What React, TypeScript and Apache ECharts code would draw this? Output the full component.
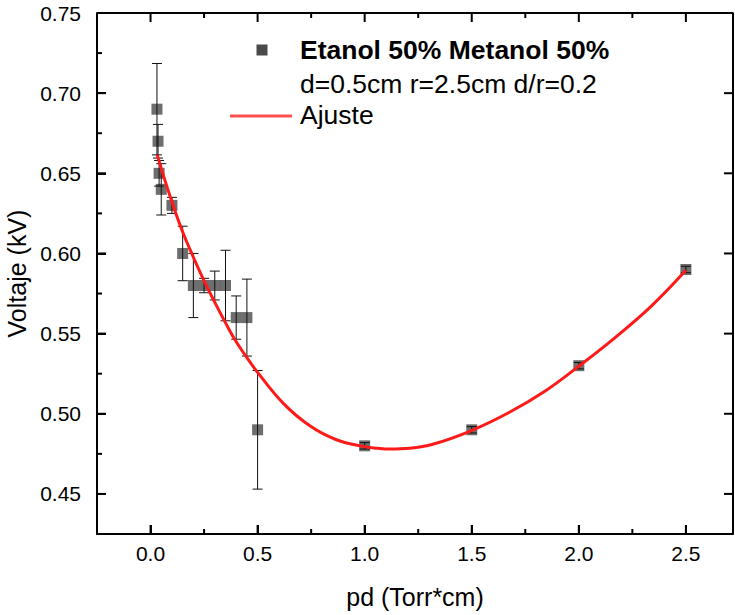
import React, { useEffect, useRef } from "react";
import * as echarts from "echarts";

// Measured data
const pdValues = [0.03, 0.035, 0.04, 0.05, 0.1, 0.15, 0.2, 0.25, 0.3, 0.35, 0.4, 0.45, 0.5, 1.0, 1.5, 2.0, 2.5];
const voltValues = [0.69, 0.67, 0.65, 0.64, 0.63, 0.6, 0.58, 0.58, 0.58, 0.58, 0.56, 0.56, 0.49, 0.48, 0.49, 0.53, 0.59];
const voltErrors = [0.0285, 0.0105, 0.008, 0.016, 0.005, 0.017, 0.02, 0.0045, 0.009, 0.022, 0.0135, 0.024, 0.037, 0.002, 0.002, 0.002, 0.002];

// Fit curve ("Ajuste")
const fitX = [0.031, 0.07, 0.108, 0.147, 0.194, 0.248, 0.302, 0.349, 0.395, 0.45, 0.499, 0.62, 0.744, 0.868, 0.997, 1.06, 1.116, 1.209, 1.318, 1.496, 1.674, 1.845, 1.997, 2.171, 2.341, 2.5];
const fitY = [0.6615, 0.6445, 0.629, 0.6145, 0.5995, 0.5835, 0.569, 0.557, 0.546, 0.535, 0.526, 0.5065, 0.4925, 0.4838, 0.4795, 0.4785, 0.478, 0.4785, 0.481, 0.4894, 0.5008, 0.5144, 0.5294, 0.5477, 0.5675, 0.5895];

// Tick positions
const xMajorTicks = [0, 0.5, 1.0, 1.5, 2.0, 2.5];
const xMinorTicks = [0.25, 0.75, 1.25, 1.75, 2.25];
const yMajorTicks = [0.45, 0.5, 0.55, 0.6, 0.65, 0.7];
const yMinorTicks = [0.475, 0.525, 0.575, 0.625, 0.675, 0.725];

const seriesName = "Etanol 50% Metanol 50%";
const seriesSub = "d=0.5cm r=2.5cm d/r=0.2";
const fitName = "Ajuste";
const xTitle = "pd (Torr*cm)";
const yTitle = "Voltaje (kV)";

const X_MIN = -0.25;
const X_MAX = 2.72;
const Y_MIN = 0.425;
const Y_MAX = 0.75;

const FONT = "Arial, 'Liberation Sans', sans-serif";

export default function App() {
  const ref = useRef<HTMLDivElement>(null);

  useEffect(() => {
    document.body.style.margin = "0";
    if (!ref.current) return;
    const chart = echarts.init(ref.current, null, { renderer: "svg" });

    const black = "#000";
    const MAJOR = 9;
    const MINOR = 5;

    const pointData = pdValues.map((x, i) => [x, voltValues[i]]);
    const errData = pdValues.map((x, i) => [x, voltValues[i], voltErrors[i]]);
    const fitData = fitX.map((x, i) => [x, fitY[i]]);

    // Tick items drawn like error bars: [x, y, half-length-in-data-units, orientation]
    // orientation 0 = vertical tick on bottom/top, 1 = horizontal tick on left/right
    const tickItems: number[][] = [];
    xMajorTicks.forEach((v) => tickItems.push([v, Y_MIN, MAJOR, 0], [v, Y_MAX, -MAJOR, 0]));
    xMinorTicks.forEach((v) => tickItems.push([v, Y_MIN, MINOR, 0], [v, Y_MAX, -MINOR, 0]));
    yMajorTicks.forEach((v) => tickItems.push([X_MIN, v, MAJOR, 1], [X_MAX, v, -MAJOR, 1]));
    yMinorTicks.forEach((v) => tickItems.push([X_MIN, v, MINOR, 1]));

    const option: any = {
      animation: false,
      backgroundColor: "#fff",
      grid: {
        left: 97,
        right: 2,
        top: 13,
        bottom: 81,
        containLabel: false,
        outerBoundsMode: "none",
      },
      xAxis: {
        type: "value",
        min: X_MIN,
        max: X_MAX,
        splitNumber: 5,
        axisLine: { show: true, onZero: false, lineStyle: { color: black, width: 2 } },
        axisTick: { show: true, inside: true, length: 9, lineStyle: { color: black, width: 2 } },
        axisLabel: {
          margin: 9,
          fontSize: 21,
          fontFamily: FONT,
          color: black,
          showMinLabel: false,
          showMaxLabel: false,
          formatter: (v: number) => v.toFixed(1),
        },
        splitLine: { show: false },
        name: xTitle,
        nameLocation: "middle",
        nameGap: 50,
        nameTextStyle: { fontSize: 25, fontFamily: FONT, color: black },
      },
      yAxis: {
        type: "value",
        min: Y_MIN,
        max: Y_MAX,
        splitNumber: 5,
        axisLine: { show: true, onZero: false, lineStyle: { color: black, width: 2 } },
        axisTick: { show: true, inside: true, length: 9, lineStyle: { color: black, width: 2 } },
        axisLabel: {
          margin: 16,
          fontSize: 21,
          fontFamily: FONT,
          color: black,
          showMinLabel: false,
          formatter: (v: number) => v.toFixed(2),
        },
        splitLine: { show: false },
        name: yTitle,
        nameLocation: "middle",
        nameGap: 62,
        nameTextStyle: { fontSize: 25, fontFamily: FONT, color: black },
      },
      series: [
        {
          name: seriesName,
          type: "scatter",
          symbol: "rect",
          symbolSize: 11,
          itemStyle: { color: "#4a4a4a" },
          data: pointData,
          z: 2,
        },
        {
          name: "err",
          type: "custom",
          encode: { x: 0, y: 1 },
          data: errData,
          z: 3,
          silent: true,
          renderItem: (params: any, api: any) => {
            const x = api.value(0);
            const y = api.value(1);
            const e = api.value(2);
            const top = api.coord([x, y + e]);
            const bot = api.coord([x, y - e]);
            const hw = 5;
            const style = { stroke: "#111", lineWidth: 1, fill: null };
            return {
              type: "group",
              children: [
                { type: "line", shape: { x1: top[0], y1: top[1], x2: bot[0], y2: bot[1] }, style },
                { type: "line", shape: { x1: top[0] - hw, y1: top[1], x2: top[0] + hw, y2: top[1] }, style },
                { type: "line", shape: { x1: bot[0] - hw, y1: bot[1], x2: bot[0] + hw, y2: bot[1] }, style },
              ],
            };
          },
        },
        {
          name: "ticks",
          type: "custom",
          encode: { x: 0, y: 1 },
          data: tickItems,
          z: 5,
          silent: true,
          clip: false,
          renderItem: (params: any, api: any) => {
            const p = api.coord([api.value(0), api.value(1)]);
            const len = api.value(2);
            const orient = api.value(3);
            const style = { stroke: "#000", lineWidth: 2, fill: null };
            if (orient === 0) {
              return { type: "line", shape: { x1: p[0], y1: p[1], x2: p[0], y2: p[1] - len }, style };
            }
            return { type: "line", shape: { x1: p[0], y1: p[1], x2: p[0] + len, y2: p[1] }, style };
          },
        },
        {
          name: "frame",
          type: "line",
          data: [
            [X_MIN, Y_MAX],
            [X_MAX, Y_MAX],
            [X_MAX, Y_MIN],
          ],
          showSymbol: false,
          symbol: "none",
          silent: true,
          clip: false,
          lineStyle: { color: "#000", width: 2 },
          z: 5,
        },
        {
          name: fitName,
          type: "line",
          data: fitData,
          smooth: 0.4,
          showSymbol: false,
          symbol: "none",
          lineStyle: { color: "#ff1a1a", width: 3 },
          z: 4,
        },
      ],
      graphic: [
        {
          type: "rect",
          shape: { x: 256.5, y: 44.5, width: 11, height: 11 },
          style: { fill: "#4a4a4a" },
        },
        {
          type: "text",
          x: 300,
          y: 50,
          style: {
            text: seriesName,
            fontSize: 26.5,
            fontWeight: "bold",
            fontFamily: FONT,
            fill: black,
            verticalAlign: "middle",
            align: "left",
          },
        },
        {
          type: "text",
          x: 300,
          y: 84,
          style: {
            text: seriesSub,
            fontSize: 26.5,
            fontFamily: FONT,
            fill: black,
            verticalAlign: "middle",
            align: "left",
          },
        },
        {
          type: "line",
          shape: { x1: 230, y1: 116, x2: 292, y2: 116 },
          style: { stroke: "#ff5050", lineWidth: 3 },
        },
        {
          type: "text",
          x: 300,
          y: 115,
          style: {
            text: fitName,
            fontSize: 26.5,
            fontFamily: FONT,
            fill: black,
            verticalAlign: "middle",
            align: "left",
          },
        },
      ],
    };

    chart.setOption(option);
    return () => chart.dispose();
  }, []);

  return <div ref={ref} style={{ width: 735, height: 615 }} />;
}
